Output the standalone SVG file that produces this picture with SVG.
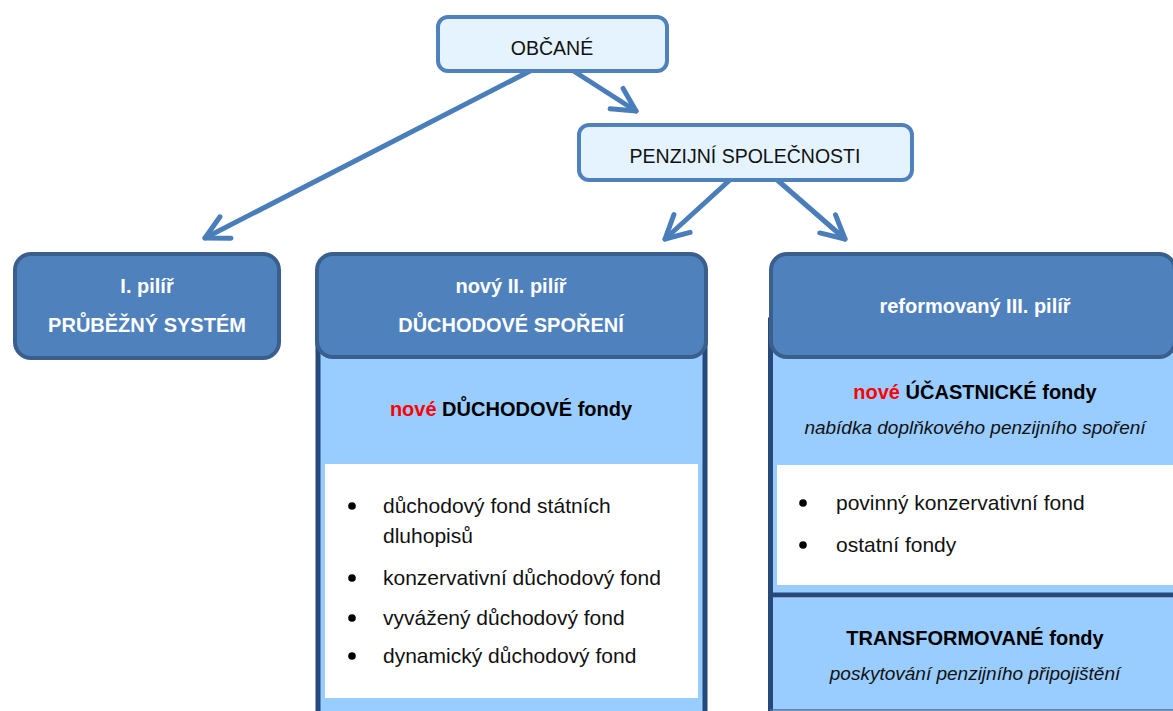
<svg xmlns="http://www.w3.org/2000/svg" width="1173" height="711" viewBox="0 0 1173 711">
<style>
.t{font-family:"Liberation Sans",Arial,sans-serif;}
.small{fill:#E4F3FD;stroke:#4F81BD;stroke-width:4;}
.head{fill:#4F81BD;stroke:#3A5F8C;stroke-width:4;}
.body{fill:#99CCFF;stroke:#24497A;stroke-width:5;}
.hl{font-size:20px;font-weight:bold;fill:#FFFFFF;text-anchor:middle;}
.lbl{font-size:19.5px;fill:#111111;text-anchor:middle;}
.sub{font-size:20px;font-weight:bold;fill:#000000;text-anchor:middle;}
.it{font-size:19px;font-style:italic;fill:#111111;text-anchor:middle;}
.li{font-size:21px;fill:#111111;}
.conn{stroke:#4A7EBB;stroke-width:5;fill:none;stroke-linecap:round;marker-end:url(#ah);}
</style>
<defs>
<marker id="ah" markerUnits="userSpaceOnUse" markerWidth="40" markerHeight="40" viewBox="-30 -20 40 40" refX="0" refY="0" orient="auto" overflow="visible">
<path d="M-23,-12 L0,0 L-23,12" fill="none" stroke="#4A7EBB" stroke-width="5" stroke-linecap="round" stroke-linejoin="round"/>
</marker>
</defs>
<rect width="1173" height="711" fill="#FFFFFF"/>
<g id="connectors">
<line class="conn" x1="532" y1="70" x2="205" y2="238"/>
<line class="conn" x1="572" y1="70" x2="636" y2="111"/>
<line class="conn" x1="732" y1="178" x2="665" y2="239"/>
<line class="conn" x1="775" y1="178" x2="845" y2="239"/>
</g>
<g id="obcane">
<rect class="small" x="438" y="17" width="229" height="54" rx="10"/>
<text class="t lbl" x="552" y="55">OBČANÉ</text>
</g>
<g id="penzijni">
<rect class="small" x="579" y="125" width="333" height="55" rx="10"/>
<text class="t lbl" x="745" y="163">PENZIJNÍ SPOLEČNOSTI</text>
</g>
<g id="pilir1">
<rect class="head" x="15" y="254" width="264" height="104" rx="16"/>
<text class="t hl" x="147" y="293">I. pilíř</text>
<text class="t hl" x="147" y="332">PRŮBĚŽNÝ SYSTÉM</text>
</g>
<g id="pilir2">
<rect class="body" x="318" y="320" width="387" height="420"/>
<rect x="325" y="464" width="373" height="234" fill="#FFFFFF"/>
<rect class="head" x="317" y="254" width="389" height="103" rx="16"/>
<text class="t hl" x="511" y="293">nový II. pilíř</text>
<text class="t hl" x="511" y="332">DŮCHODOVÉ SPOŘENÍ</text>
<text class="t sub" x="511" y="416"><tspan fill="#FF0000">nové</tspan> DŮCHODOVÉ fondy</text>
<circle cx="352" cy="506" r="3.8" fill="#000"/>
<circle cx="352" cy="578" r="3.8" fill="#000"/>
<circle cx="352" cy="618" r="3.8" fill="#000"/>
<circle cx="352" cy="656" r="3.8" fill="#000"/>
<text class="t li" x="383" y="513">důchodový fond státních</text>
<text class="t li" x="383" y="543">dluhopisů</text>
<text class="t li" x="383" y="585">konzervativní důchodový fond</text>
<text class="t li" x="383" y="625">vyvážený důchodový fond</text>
<text class="t li" x="383" y="663">dynamický důchodový fond</text>
</g>
<g id="pilir3">
<rect x="773" y="598" width="410" height="112" fill="#99CCFF"/>
<line x1="770.5" y1="595" x2="770.5" y2="711" stroke="#24497A" stroke-width="5"/>
<line x1="770" y1="710" x2="1173" y2="710" stroke="#4A6FA0" stroke-width="1.5"/>
<rect class="body" x="770.5" y="320" width="430" height="275"/>
<rect x="777" y="465" width="410" height="120" fill="#FFFFFF"/>
<rect class="head" x="771" y="254" width="404" height="103" rx="16"/>
<text class="t hl" x="975" y="313">reformovaný III. pilíř</text>
<text class="t sub" x="975" y="399"><tspan fill="#FF0000">nové</tspan> ÚČASTNICKÉ fondy</text>
<text class="t it" x="975" y="434">nabídka doplňkového penzijního spoření</text>
<circle cx="803" cy="503" r="3.8" fill="#000"/>
<circle cx="803" cy="545" r="3.8" fill="#000"/>
<text class="t li" x="836" y="510">povinný konzervativní fond</text>
<text class="t li" x="836" y="552">ostatní fondy</text>
<text class="t sub" x="975" y="645">TRANSFORMOVANÉ fondy</text>
<text class="t it" x="975" y="680">poskytování penzijního připojištění</text>
</g>
</svg>
